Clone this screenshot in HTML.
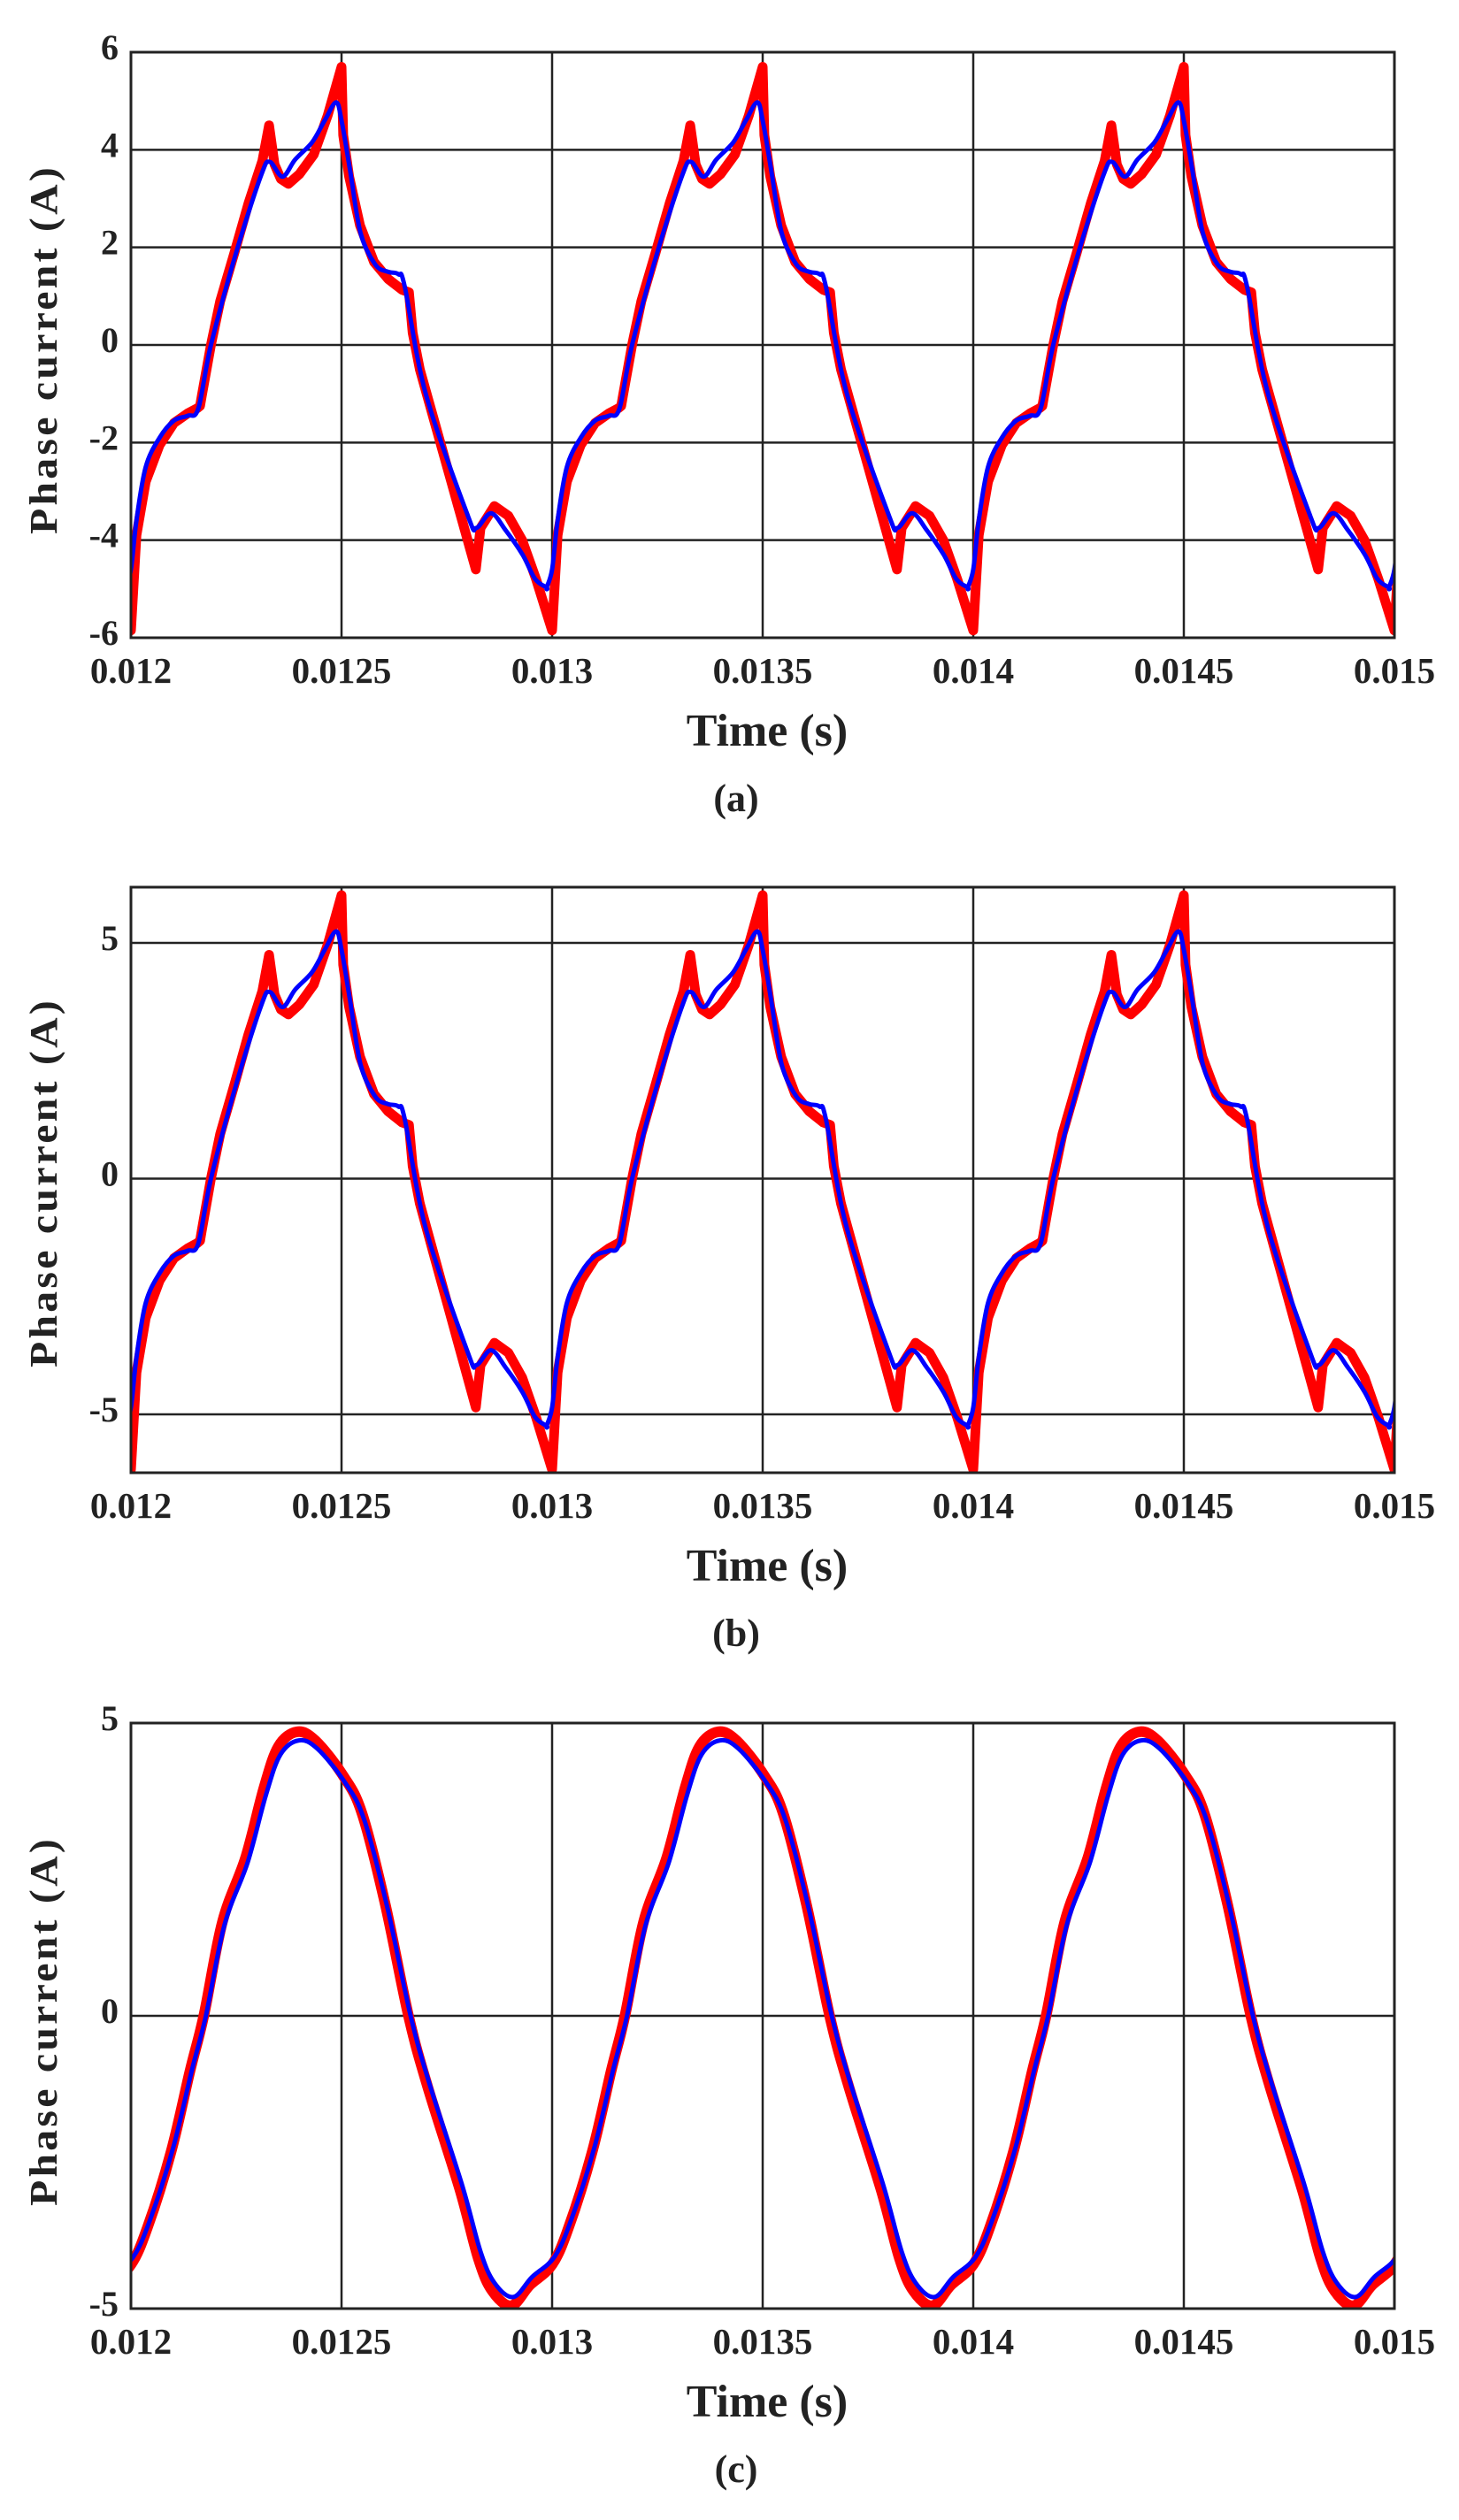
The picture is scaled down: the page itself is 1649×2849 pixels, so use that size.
<!DOCTYPE html>
<html><head><meta charset="utf-8">
<style>
html,body{margin:0;padding:0;background:#fff;}
svg{display:block;}
text{font-family:"Liberation Serif",serif;font-weight:bold;fill:#222;}
</style></head>
<body>
<svg id="s" width="1649" height="2849" viewBox="0 0 1649 2849" xmlns="http://www.w3.org/2000/svg">
<defs>
<clipPath id="ca"><rect x="148" y="59" width="1428" height="662"/></clipPath>
<clipPath id="cb"><rect x="148" y="1003" width="1428" height="662"/></clipPath>
<clipPath id="cc"><rect x="148" y="1948" width="1428" height="662"/></clipPath>
</defs>
<g id="g"></g>
</svg>
<script>
var NS="http://www.w3.org/2000/svg",G=document.getElementById('g');
function el(t,a,txt){var e=document.createElementNS(NS,t);for(var k in a)e.setAttribute(k,a[k]);if(txt!==undefined)e.textContent=txt;G.appendChild(e);return e;}
var L=148,R=1576,W=1428;
function X(ms){return L+ms/3*W;}
var redA=[[0,-5.85],[0.013,-3.9],[0.035,-2.8],[0.068,-2.05],[0.102,-1.6],[0.135,-1.4],[0.157,-1.3],[0.164,-1.25],[0.168,-1.05],[0.19,0],[0.212,0.9],[0.246,1.9],[0.279,2.9],[0.312,3.77],[0.328,4.5],[0.341,3.7],[0.356,3.4],[0.374,3.3],[0.4,3.5],[0.434,3.9],[0.467,4.7],[0.5,5.7],[0.504,4.3],[0.518,3.45],[0.544,2.45],[0.577,1.7],[0.611,1.35],[0.644,1.13],[0.66,1.08],[0.669,0.25],[0.686,-0.5],[0.819,-4.6],[0.83,-3.75],[0.863,-3.3],[0.896,-3.5],[0.929,-4.0],[0.962,-4.8],[1.0,-5.85]];
var blueA=[[-0.013,-4.97],[0,-4.6],[0.013,-3.6],[0.035,-2.5],[0.068,-1.9],[0.102,-1.55],[0.135,-1.45],[0.16,-1.3],[0.19,0],[0.25,1.9],[0.31,3.5],[0.33,3.75],[0.36,3.45],[0.39,3.8],[0.43,4.15],[0.46,4.6],[0.487,4.97],[0.5,4.6],[0.52,3.6],[0.545,2.3],[0.58,1.65],[0.61,1.5],[0.635,1.45],[0.65,1.2],[0.7,-1.0],[0.8,-3.5],[0.82,-3.75],[0.855,-3.45],[0.89,-3.8],[0.93,-4.3],[0.96,-4.8],[0.987,-4.97]];
var redC=[[0,-4.25],[0.04,-3.6],[0.095,-2.33],[0.14,-0.95],[0.173,0],[0.217,1.6],[0.272,2.7],[0.316,3.9],[0.35,4.6],[0.394,4.85],[0.438,4.7],[0.504,4.1],[0.549,3.45],[0.604,1.9],[0.659,0],[0.704,-1.2],[0.781,-2.97],[0.825,-4.15],[0.858,-4.7],[0.903,-4.95],[0.947,-4.6]];
function pts(data,scale,shift,y0,k){var p=[];for(var c=-1;c<=3;c++){for(var i=0;i<data.length;i++){var ms=data[i][0]+c+shift;if(ms<-0.1||ms>3.1)continue;p.push([X(ms),y0-data[i][1]*scale*k]);}}return p;}
function poly(p){return p.map(function(q,i){return (i?'L':'M')+q[0].toFixed(1)+' '+q[1].toFixed(1);}).join('');}
function cr(p){var d='M'+p[0][0].toFixed(1)+' '+p[0][1].toFixed(1);for(var i=0;i<p.length-1;i++){var p0=p[i-1]||p[i],p1=p[i],p2=p[i+1],p3=p[i+2]||p2;var c1=[p1[0]+(p2[0]-p0[0])/6,p1[1]+(p2[1]-p0[1])/6],c2=[p2[0]-(p3[0]-p1[0])/6,p2[1]-(p3[1]-p1[1])/6];d+='C'+c1[0].toFixed(1)+' '+c1[1].toFixed(1)+' '+c2[0].toFixed(1)+' '+c2[1].toFixed(1)+' '+p2[0].toFixed(1)+' '+p2[1].toFixed(1);}return d;}
function panel(top,bot,y0,k,yt,clip,kind,label,lblY){
  for(var i=1;i<6;i++){var x=L+i*W/6;el('line',{x1:x,y1:top,x2:x,y2:bot,stroke:'#222','stroke-width':2.5});}
  yt.forEach(function(v){var y=y0-v*k;if(y>top+2&&y<bot-2)el('line',{x1:L,y1:y,x2:R,y2:y,stroke:'#222','stroke-width':2.5});
    el('text',{x:134,y:y+8,'font-size':40,'text-anchor':'end'},(v<0?'-':'')+Math.abs(v));});
  var g=el('g',{'clip-path':'url(#'+clip+')'});
  var rp,bp;
  if(kind=='c'){rp=cr(pts(redC,1,0,y0,k));bp=cr(pts(redC,0.97,0.005,y0,k));}
  else{var sc=kind=='a'?1:1.055;rp=poly(pts(redA,sc,0,y0,k));bp=cr(pts(blueA,sc,0,y0,k));}
  var r=document.createElementNS(NS,'path');r.setAttribute('d',rp);r.setAttribute('fill','none');r.setAttribute('stroke','#ff0000');r.setAttribute('stroke-width',kind=='c'?12:11);r.setAttribute('stroke-linejoin','round');g.appendChild(r);
  var b=document.createElementNS(NS,'path');b.setAttribute('d',bp);b.setAttribute('fill','none');b.setAttribute('stroke','#0000ff');b.setAttribute('stroke-width',5);b.setAttribute('stroke-linejoin','round');g.appendChild(b);
  el('rect',{x:L,y:top,width:W,height:bot-top,fill:'none',stroke:'#222','stroke-width':3});
  var xl=['0.012','0.0125','0.013','0.0135','0.014','0.0145','0.015'];
  xl.forEach(function(s,i){el('text',{x:L+i*W/6,y:bot+51,'font-size':41,'text-anchor':'middle'},s);});
  el('text',{x:867,y:bot+122,'font-size':52,'text-anchor':'middle'},'Time (s)');
  el('text',{x:832,y:bot+196,'font-size':44,'text-anchor':'middle'},label);
  el('text',{x:0,y:0,'font-size':44,'text-anchor':'middle','letter-spacing':3,transform:'translate(64 '+lblY+') rotate(-90)',textLength:418,lengthAdjust:'spacingAndGlyphs'},'Phase current (A)');
}
panel(59,721,390,55.17,[6,4,2,0,-2,-4,-6],'ca','a','(a)',395);
panel(1003,1665,1332.5,53.3,[5,0,-5],'cb','b','(b)',1337);
panel(1948,2610,2279,66.2,[5,0,-5],'cc','c','(c)',2285);
</script>
</body></html>
